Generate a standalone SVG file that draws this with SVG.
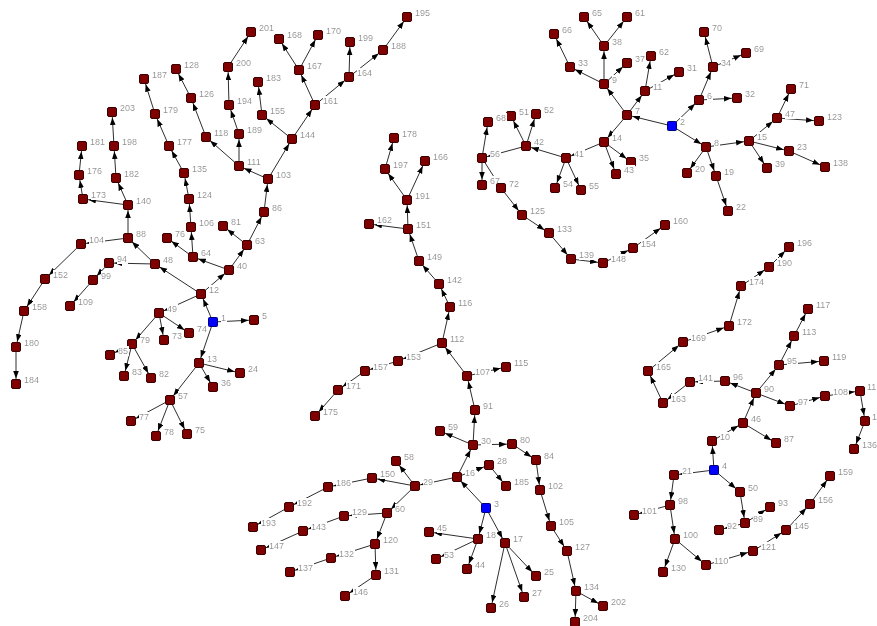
<svg xmlns="http://www.w3.org/2000/svg" xmlns:xlink="http://www.w3.org/1999/xlink" width="877" height="626" viewBox="0 0 877 626">
<style>
.edges line{stroke:#2e2e2e;stroke-width:1;marker-end:url(#arr)}
.n text{font-family:"Liberation Sans",Arial,sans-serif;font-size:9px;fill:#8a8a8a;filter:url(#bg)}
</style>
<defs>
<marker id="arr" markerUnits="userSpaceOnUse" markerWidth="8" markerHeight="6" refX="13" refY="2.8" orient="auto"><path d="M0,0 L7.5,2.8 L0,5.6 z" fill="#000"/></marker>
<filter id="bg" x="0" y="0" width="1" height="1"><feFlood flood-color="#fff"/><feComposite in="SourceGraphic" operator="over"/></filter>
<rect id="box" x="-4.5" y="-4.5" width="9" height="9" rx="1.5" fill="#7e0000" stroke="#3a0000" stroke-width="1"/>
<rect id="rbox" x="-4.5" y="-4.5" width="9" height="9" rx="1" fill="#0000ff" stroke="#00007a" stroke-width="1"/>
</defs>
<rect width="877" height="626" fill="#fff"/>
<g id="connectors" class="edges">
<line x1="213" y1="322" x2="201" y2="294"/><line x1="213" y1="322" x2="254" y2="320"/><line x1="213" y1="322" x2="199" y2="363"/>
<line x1="201" y1="294" x2="155" y2="264"/><line x1="201" y1="294" x2="229" y2="270"/><line x1="201" y1="294" x2="159" y2="313"/>
<line x1="155" y1="264" x2="128" y2="238"/><line x1="155" y1="264" x2="109" y2="263"/>
<line x1="128" y1="238" x2="128" y2="205"/><line x1="128" y1="238" x2="81" y2="244"/>
<line x1="128" y1="205" x2="83" y2="199"/><line x1="128" y1="205" x2="116" y2="178"/>
<line x1="83" y1="199" x2="79" y2="175"/><line x1="79" y1="175" x2="82" y2="146"/>
<line x1="116" y1="178" x2="114" y2="146"/><line x1="114" y1="146" x2="112" y2="112"/>
<line x1="81" y1="244" x2="45" y2="279"/><line x1="45" y1="279" x2="24" y2="311"/><line x1="24" y1="311" x2="16" y2="347"/><line x1="16" y1="347" x2="16" y2="384"/>
<line x1="109" y1="263" x2="93" y2="280"/><line x1="93" y1="280" x2="70" y2="306"/>
<line x1="229" y1="270" x2="247" y2="245"/><line x1="229" y1="270" x2="193" y2="257"/>
<line x1="247" y1="245" x2="264" y2="212"/><line x1="247" y1="245" x2="223" y2="226"/>
<line x1="264" y1="212" x2="268" y2="179"/>
<line x1="268" y1="179" x2="239" y2="166"/><line x1="268" y1="179" x2="292" y2="139"/>
<line x1="239" y1="166" x2="206" y2="137"/><line x1="239" y1="166" x2="239" y2="134"/>
<line x1="206" y1="137" x2="191" y2="98"/><line x1="191" y1="98" x2="176" y2="69"/>
<line x1="239" y1="134" x2="229" y2="105"/><line x1="229" y1="105" x2="228" y2="67"/><line x1="228" y1="67" x2="251" y2="32"/>
<line x1="292" y1="139" x2="262" y2="115"/><line x1="292" y1="139" x2="315" y2="105"/>
<line x1="262" y1="115" x2="258" y2="82"/>
<line x1="315" y1="105" x2="299" y2="70"/><line x1="315" y1="105" x2="349" y2="77"/>
<line x1="299" y1="70" x2="279" y2="39"/><line x1="299" y1="70" x2="318" y2="35"/>
<line x1="349" y1="77" x2="350" y2="42"/><line x1="349" y1="77" x2="383" y2="50"/><line x1="383" y1="50" x2="407" y2="17"/>
<line x1="193" y1="257" x2="167" y2="238"/><line x1="193" y1="257" x2="191" y2="227"/>
<line x1="191" y1="227" x2="189" y2="199"/><line x1="189" y1="199" x2="184" y2="173"/><line x1="184" y1="173" x2="169" y2="146"/><line x1="169" y1="146" x2="155" y2="114"/><line x1="155" y1="114" x2="144" y2="79"/>
<line x1="159" y1="313" x2="164" y2="340"/><line x1="159" y1="313" x2="189" y2="333"/><line x1="159" y1="313" x2="132" y2="344"/>
<line x1="132" y1="344" x2="110" y2="355"/><line x1="132" y1="344" x2="124" y2="376"/><line x1="132" y1="344" x2="151" y2="378"/>
<line x1="199" y1="363" x2="240" y2="373"/><line x1="199" y1="363" x2="213" y2="387"/><line x1="199" y1="363" x2="170" y2="400"/>
<line x1="170" y1="400" x2="131" y2="421"/><line x1="170" y1="400" x2="156" y2="436"/><line x1="170" y1="400" x2="187" y2="434"/>
<line x1="672" y1="126" x2="627" y2="115"/><line x1="672" y1="126" x2="699" y2="100"/><line x1="672" y1="126" x2="706" y2="147"/>
<line x1="627" y1="115" x2="604" y2="84"/><line x1="627" y1="115" x2="645" y2="91"/><line x1="627" y1="115" x2="604" y2="142"/>
<line x1="604" y1="84" x2="604" y2="46"/><line x1="604" y1="84" x2="570" y2="67"/><line x1="604" y1="84" x2="627" y2="63"/>
<line x1="604" y1="46" x2="584" y2="17"/><line x1="604" y1="46" x2="627" y2="17"/>
<line x1="570" y1="67" x2="554" y2="34"/>
<line x1="645" y1="91" x2="651" y2="56"/><line x1="645" y1="91" x2="679" y2="72"/>
<line x1="604" y1="142" x2="631" y2="162"/><line x1="604" y1="142" x2="616" y2="174"/><line x1="604" y1="142" x2="566" y2="158"/>
<line x1="566" y1="158" x2="526" y2="146"/><line x1="566" y1="158" x2="555" y2="188"/><line x1="566" y1="158" x2="581" y2="190"/>
<line x1="526" y1="146" x2="511" y2="116"/><line x1="526" y1="146" x2="536" y2="114"/><line x1="526" y1="146" x2="482" y2="158"/>
<line x1="482" y1="158" x2="488" y2="122"/><line x1="482" y1="158" x2="482" y2="185"/><line x1="482" y1="158" x2="501" y2="188"/>
<line x1="501" y1="188" x2="522" y2="215"/><line x1="522" y1="215" x2="549" y2="233"/><line x1="549" y1="233" x2="571" y2="259"/><line x1="571" y1="259" x2="603" y2="263"/><line x1="603" y1="263" x2="633" y2="248"/><line x1="633" y1="248" x2="665" y2="225"/>
<line x1="699" y1="100" x2="713" y2="67"/><line x1="699" y1="100" x2="737" y2="98"/>
<line x1="713" y1="67" x2="704" y2="32"/><line x1="713" y1="67" x2="746" y2="53"/>
<line x1="706" y1="147" x2="749" y2="141"/><line x1="706" y1="147" x2="687" y2="173"/><line x1="706" y1="147" x2="716" y2="176"/>
<line x1="716" y1="176" x2="728" y2="211"/>
<line x1="749" y1="141" x2="777" y2="118"/><line x1="749" y1="141" x2="789" y2="151"/><line x1="749" y1="141" x2="767" y2="168"/>
<line x1="777" y1="118" x2="791" y2="89"/><line x1="777" y1="118" x2="819" y2="121"/>
<line x1="789" y1="151" x2="825" y2="167"/>
<line x1="486" y1="508" x2="457" y2="477"/><line x1="486" y1="508" x2="478" y2="539"/><line x1="486" y1="508" x2="505" y2="543"/>
<line x1="457" y1="477" x2="473" y2="445"/><line x1="457" y1="477" x2="489" y2="465"/><line x1="457" y1="477" x2="415" y2="486"/>
<line x1="489" y1="465" x2="506" y2="486"/>
<line x1="473" y1="445" x2="440" y2="431"/><line x1="473" y1="445" x2="475" y2="410"/><line x1="473" y1="445" x2="512" y2="444"/>
<line x1="512" y1="444" x2="536" y2="460"/><line x1="536" y1="460" x2="540" y2="490"/><line x1="540" y1="490" x2="551" y2="526"/><line x1="551" y1="526" x2="567" y2="551"/><line x1="567" y1="551" x2="576" y2="591"/><line x1="576" y1="591" x2="603" y2="606"/><line x1="576" y1="591" x2="575" y2="622"/>
<line x1="475" y1="410" x2="467" y2="376"/><line x1="467" y1="376" x2="506" y2="367"/><line x1="467" y1="376" x2="442" y2="343"/>
<line x1="442" y1="343" x2="450" y2="307"/><line x1="450" y1="307" x2="439" y2="284"/><line x1="439" y1="284" x2="419" y2="261"/><line x1="419" y1="261" x2="408" y2="229"/><line x1="408" y1="229" x2="369" y2="224"/><line x1="408" y1="229" x2="407" y2="200"/><line x1="407" y1="200" x2="385" y2="169"/><line x1="407" y1="200" x2="425" y2="161"/><line x1="385" y1="169" x2="394" y2="138"/>
<line x1="442" y1="343" x2="398" y2="361"/><line x1="398" y1="361" x2="365" y2="371"/><line x1="365" y1="371" x2="338" y2="390"/><line x1="338" y1="390" x2="315" y2="416"/>
<line x1="415" y1="486" x2="396" y2="461"/><line x1="415" y1="486" x2="372" y2="478"/><line x1="415" y1="486" x2="387" y2="513"/>
<line x1="372" y1="478" x2="328" y2="487"/><line x1="328" y1="487" x2="289" y2="507"/><line x1="289" y1="507" x2="253" y2="527"/>
<line x1="387" y1="513" x2="344" y2="516"/><line x1="344" y1="516" x2="303" y2="531"/><line x1="303" y1="531" x2="261" y2="550"/>
<line x1="387" y1="513" x2="375" y2="544"/><line x1="375" y1="544" x2="331" y2="558"/><line x1="331" y1="558" x2="290" y2="572"/><line x1="375" y1="544" x2="376" y2="575"/><line x1="376" y1="575" x2="345" y2="596"/>
<line x1="478" y1="539" x2="429" y2="532"/><line x1="478" y1="539" x2="436" y2="559"/><line x1="478" y1="539" x2="467" y2="569"/>
<line x1="505" y1="543" x2="491" y2="608"/><line x1="505" y1="543" x2="524" y2="597"/><line x1="505" y1="543" x2="536" y2="576"/>
<line x1="714" y1="470" x2="712" y2="441"/><line x1="714" y1="470" x2="674" y2="475"/><line x1="714" y1="470" x2="740" y2="492"/>
<line x1="712" y1="441" x2="743" y2="423"/>
<line x1="743" y1="423" x2="776" y2="443"/><line x1="743" y1="423" x2="756" y2="393"/>
<line x1="756" y1="393" x2="725" y2="381"/><line x1="756" y1="393" x2="779" y2="365"/><line x1="756" y1="393" x2="790" y2="406"/>
<line x1="725" y1="381" x2="690" y2="382"/><line x1="690" y1="382" x2="663" y2="403"/><line x1="663" y1="403" x2="648" y2="371"/><line x1="648" y1="371" x2="683" y2="342"/><line x1="683" y1="342" x2="729" y2="326"/><line x1="729" y1="326" x2="741" y2="286"/><line x1="741" y1="286" x2="769" y2="267"/><line x1="769" y1="267" x2="789" y2="247"/>
<line x1="779" y1="365" x2="794" y2="336"/><line x1="794" y1="336" x2="808" y2="309"/><line x1="779" y1="365" x2="824" y2="361"/>
<line x1="790" y1="406" x2="825" y2="396"/><line x1="825" y1="396" x2="860" y2="391"/><line x1="860" y1="391" x2="865" y2="421"/><line x1="865" y1="421" x2="854" y2="449"/>
<line x1="674" y1="475" x2="670" y2="505"/><line x1="670" y1="505" x2="634" y2="515"/><line x1="670" y1="505" x2="675" y2="539"/>
<line x1="675" y1="539" x2="663" y2="572"/><line x1="675" y1="539" x2="706" y2="565"/><line x1="706" y1="565" x2="753" y2="551"/><line x1="753" y1="551" x2="786" y2="530"/><line x1="786" y1="530" x2="810" y2="504"/><line x1="810" y1="504" x2="830" y2="476"/>
<line x1="740" y1="492" x2="745" y2="523"/><line x1="745" y1="523" x2="770" y2="507"/><line x1="745" y1="523" x2="719" y2="530"/>
</g>
<g id="nodes">
<g id="n1" class="n" transform="translate(213,322)"><use href="#rbox"/><text x="8" y="-1">1</text></g>
<g id="n2" class="n" transform="translate(672,126)"><use href="#rbox"/><text x="8" y="-1">2</text></g>
<g id="n3" class="n" transform="translate(486,508)"><use href="#rbox"/><text x="8" y="-1">3</text></g>
<g id="n4" class="n" transform="translate(714,470)"><use href="#rbox"/><text x="8" y="-1">4</text></g>
<g id="n5" class="n" transform="translate(254,320)"><use href="#box"/><text x="8" y="-1">5</text></g>
<g id="n6" class="n" transform="translate(699,100)"><use href="#box"/><text x="8" y="-1">6</text></g>
<g id="n7" class="n" transform="translate(627,115)"><use href="#box"/><text x="8" y="-1">7</text></g>
<g id="n8" class="n" transform="translate(706,147)"><use href="#box"/><text x="8" y="-1">8</text></g>
<g id="n9" class="n" transform="translate(604,84)"><use href="#box"/><text x="8" y="-1">9</text></g>
<g id="n10" class="n" transform="translate(712,441)"><use href="#box"/><text x="8" y="-1">10</text></g>
<g id="n11" class="n" transform="translate(645,91)"><use href="#box"/><text x="8" y="-1">11</text></g>
<g id="n12" class="n" transform="translate(201,294)"><use href="#box"/><text x="8" y="-1">12</text></g>
<g id="n13" class="n" transform="translate(199,363)"><use href="#box"/><text x="8" y="-1">13</text></g>
<g id="n14" class="n" transform="translate(604,142)"><use href="#box"/><text x="8" y="-1">14</text></g>
<g id="n15" class="n" transform="translate(749,141)"><use href="#box"/><text x="8" y="-1">15</text></g>
<g id="n16" class="n" transform="translate(457,477)"><use href="#box"/><text x="8" y="-1">16</text></g>
<g id="n17" class="n" transform="translate(505,543)"><use href="#box"/><text x="8" y="-1">17</text></g>
<g id="n18" class="n" transform="translate(478,539)"><use href="#box"/><text x="8" y="-1">18</text></g>
<g id="n19" class="n" transform="translate(716,176)"><use href="#box"/><text x="8" y="-1">19</text></g>
<g id="n20" class="n" transform="translate(687,173)"><use href="#box"/><text x="8" y="-1">20</text></g>
<g id="n21" class="n" transform="translate(674,475)"><use href="#box"/><text x="8" y="-1">21</text></g>
<g id="n22" class="n" transform="translate(728,211)"><use href="#box"/><text x="8" y="-1">22</text></g>
<g id="n23" class="n" transform="translate(789,151)"><use href="#box"/><text x="8" y="-1">23</text></g>
<g id="n24" class="n" transform="translate(240,373)"><use href="#box"/><text x="8" y="-1">24</text></g>
<g id="n25" class="n" transform="translate(536,576)"><use href="#box"/><text x="8" y="-1">25</text></g>
<g id="n26" class="n" transform="translate(491,608)"><use href="#box"/><text x="8" y="-1">26</text></g>
<g id="n27" class="n" transform="translate(524,597)"><use href="#box"/><text x="8" y="-1">27</text></g>
<g id="n28" class="n" transform="translate(489,465)"><use href="#box"/><text x="8" y="-1">28</text></g>
<g id="n29" class="n" transform="translate(415,486)"><use href="#box"/><text x="8" y="-1">29</text></g>
<g id="n30" class="n" transform="translate(473,445)"><use href="#box"/><text x="8" y="-1">30</text></g>
<g id="n31" class="n" transform="translate(679,72)"><use href="#box"/><text x="8" y="-1">31</text></g>
<g id="n32" class="n" transform="translate(737,98)"><use href="#box"/><text x="8" y="-1">32</text></g>
<g id="n33" class="n" transform="translate(570,67)"><use href="#box"/><text x="8" y="-1">33</text></g>
<g id="n34" class="n" transform="translate(713,67)"><use href="#box"/><text x="8" y="-1">34</text></g>
<g id="n35" class="n" transform="translate(631,162)"><use href="#box"/><text x="8" y="-1">35</text></g>
<g id="n36" class="n" transform="translate(213,387)"><use href="#box"/><text x="8" y="-1">36</text></g>
<g id="n37" class="n" transform="translate(627,63)"><use href="#box"/><text x="8" y="-1">37</text></g>
<g id="n38" class="n" transform="translate(604,46)"><use href="#box"/><text x="8" y="-1">38</text></g>
<g id="n39" class="n" transform="translate(767,168)"><use href="#box"/><text x="8" y="-1">39</text></g>
<g id="n40" class="n" transform="translate(229,270)"><use href="#box"/><text x="8" y="-1">40</text></g>
<g id="n41" class="n" transform="translate(566,158)"><use href="#box"/><text x="8" y="-1">41</text></g>
<g id="n42" class="n" transform="translate(526,146)"><use href="#box"/><text x="8" y="-1">42</text></g>
<g id="n43" class="n" transform="translate(616,174)"><use href="#box"/><text x="8" y="-1">43</text></g>
<g id="n44" class="n" transform="translate(467,569)"><use href="#box"/><text x="8" y="-1">44</text></g>
<g id="n45" class="n" transform="translate(429,532)"><use href="#box"/><text x="8" y="-1">45</text></g>
<g id="n46" class="n" transform="translate(743,423)"><use href="#box"/><text x="8" y="-1">46</text></g>
<g id="n47" class="n" transform="translate(777,118)"><use href="#box"/><text x="8" y="-1">47</text></g>
<g id="n48" class="n" transform="translate(155,264)"><use href="#box"/><text x="8" y="-1">48</text></g>
<g id="n49" class="n" transform="translate(159,313)"><use href="#box"/><text x="8" y="-1">49</text></g>
<g id="n50" class="n" transform="translate(740,492)"><use href="#box"/><text x="8" y="-1">50</text></g>
<g id="n51" class="n" transform="translate(511,116)"><use href="#box"/><text x="8" y="-1">51</text></g>
<g id="n52" class="n" transform="translate(536,114)"><use href="#box"/><text x="8" y="-1">52</text></g>
<g id="n53" class="n" transform="translate(436,559)"><use href="#box"/><text x="8" y="-1">53</text></g>
<g id="n54" class="n" transform="translate(555,188)"><use href="#box"/><text x="8" y="-1">54</text></g>
<g id="n55" class="n" transform="translate(581,190)"><use href="#box"/><text x="8" y="-1">55</text></g>
<g id="n56" class="n" transform="translate(482,158)"><use href="#box"/><text x="8" y="-1">56</text></g>
<g id="n57" class="n" transform="translate(170,400)"><use href="#box"/><text x="8" y="-1">57</text></g>
<g id="n58" class="n" transform="translate(396,461)"><use href="#box"/><text x="8" y="-1">58</text></g>
<g id="n59" class="n" transform="translate(440,431)"><use href="#box"/><text x="8" y="-1">59</text></g>
<g id="n60" class="n" transform="translate(387,513)"><use href="#box"/><text x="8" y="-1">60</text></g>
<g id="n61" class="n" transform="translate(627,17)"><use href="#box"/><text x="8" y="-1">61</text></g>
<g id="n62" class="n" transform="translate(651,56)"><use href="#box"/><text x="8" y="-1">62</text></g>
<g id="n63" class="n" transform="translate(247,245)"><use href="#box"/><text x="8" y="-1">63</text></g>
<g id="n64" class="n" transform="translate(193,257)"><use href="#box"/><text x="8" y="-1">64</text></g>
<g id="n65" class="n" transform="translate(584,17)"><use href="#box"/><text x="8" y="-1">65</text></g>
<g id="n66" class="n" transform="translate(554,34)"><use href="#box"/><text x="8" y="-1">66</text></g>
<g id="n67" class="n" transform="translate(482,185)"><use href="#box"/><text x="8" y="-1">67</text></g>
<g id="n68" class="n" transform="translate(488,122)"><use href="#box"/><text x="8" y="-1">68</text></g>
<g id="n69" class="n" transform="translate(746,53)"><use href="#box"/><text x="8" y="-1">69</text></g>
<g id="n70" class="n" transform="translate(704,32)"><use href="#box"/><text x="8" y="-1">70</text></g>
<g id="n71" class="n" transform="translate(791,89)"><use href="#box"/><text x="8" y="-1">71</text></g>
<g id="n72" class="n" transform="translate(501,188)"><use href="#box"/><text x="8" y="-1">72</text></g>
<g id="n73" class="n" transform="translate(164,340)"><use href="#box"/><text x="8" y="-1">73</text></g>
<g id="n74" class="n" transform="translate(189,333)"><use href="#box"/><text x="8" y="-1">74</text></g>
<g id="n75" class="n" transform="translate(187,434)"><use href="#box"/><text x="8" y="-1">75</text></g>
<g id="n76" class="n" transform="translate(167,238)"><use href="#box"/><text x="8" y="-1">76</text></g>
<g id="n77" class="n" transform="translate(131,421)"><use href="#box"/><text x="8" y="-1">77</text></g>
<g id="n78" class="n" transform="translate(156,436)"><use href="#box"/><text x="8" y="-1">78</text></g>
<g id="n79" class="n" transform="translate(132,344)"><use href="#box"/><text x="8" y="-1">79</text></g>
<g id="n80" class="n" transform="translate(512,444)"><use href="#box"/><text x="8" y="-1">80</text></g>
<g id="n81" class="n" transform="translate(223,226)"><use href="#box"/><text x="8" y="-1">81</text></g>
<g id="n82" class="n" transform="translate(151,378)"><use href="#box"/><text x="8" y="-1">82</text></g>
<g id="n83" class="n" transform="translate(124,376)"><use href="#box"/><text x="8" y="-1">83</text></g>
<g id="n84" class="n" transform="translate(536,460)"><use href="#box"/><text x="8" y="-1">84</text></g>
<g id="n85" class="n" transform="translate(110,355)"><use href="#box"/><text x="8" y="-1">85</text></g>
<g id="n86" class="n" transform="translate(264,212)"><use href="#box"/><text x="8" y="-1">86</text></g>
<g id="n87" class="n" transform="translate(776,443)"><use href="#box"/><text x="8" y="-1">87</text></g>
<g id="n88" class="n" transform="translate(128,238)"><use href="#box"/><text x="8" y="-1">88</text></g>
<g id="n89" class="n" transform="translate(745,523)"><use href="#box"/><text x="8" y="-1">89</text></g>
<g id="n90" class="n" transform="translate(756,393)"><use href="#box"/><text x="8" y="-1">90</text></g>
<g id="n91" class="n" transform="translate(475,410)"><use href="#box"/><text x="8" y="-1">91</text></g>
<g id="n92" class="n" transform="translate(719,530)"><use href="#box"/><text x="8" y="-1">92</text></g>
<g id="n93" class="n" transform="translate(770,507)"><use href="#box"/><text x="8" y="-1">93</text></g>
<g id="n94" class="n" transform="translate(109,263)"><use href="#box"/><text x="8" y="-1">94</text></g>
<g id="n95" class="n" transform="translate(779,365)"><use href="#box"/><text x="8" y="-1">95</text></g>
<g id="n96" class="n" transform="translate(725,381)"><use href="#box"/><text x="8" y="-1">96</text></g>
<g id="n97" class="n" transform="translate(790,406)"><use href="#box"/><text x="8" y="-1">97</text></g>
<g id="n98" class="n" transform="translate(670,505)"><use href="#box"/><text x="8" y="-1">98</text></g>
<g id="n99" class="n" transform="translate(93,280)"><use href="#box"/><text x="8" y="-1">99</text></g>
<g id="n100" class="n" transform="translate(675,539)"><use href="#box"/><text x="8" y="-1">100</text></g>
<g id="n101" class="n" transform="translate(634,515)"><use href="#box"/><text x="8" y="-1">101</text></g>
<g id="n102" class="n" transform="translate(540,490)"><use href="#box"/><text x="8" y="-1">102</text></g>
<g id="n103" class="n" transform="translate(268,179)"><use href="#box"/><text x="8" y="-1">103</text></g>
<g id="n104" class="n" transform="translate(81,244)"><use href="#box"/><text x="8" y="-1">104</text></g>
<g id="n105" class="n" transform="translate(551,526)"><use href="#box"/><text x="8" y="-1">105</text></g>
<g id="n106" class="n" transform="translate(191,227)"><use href="#box"/><text x="8" y="-1">106</text></g>
<g id="n107" class="n" transform="translate(467,376)"><use href="#box"/><text x="8" y="-1">107</text></g>
<g id="n108" class="n" transform="translate(825,396)"><use href="#box"/><text x="8" y="-1">108</text></g>
<g id="n109" class="n" transform="translate(70,306)"><use href="#box"/><text x="8" y="-1">109</text></g>
<g id="n110" class="n" transform="translate(706,565)"><use href="#box"/><text x="8" y="-1">110</text></g>
<g id="n111" class="n" transform="translate(239,166)"><use href="#box"/><text x="8" y="-1">111</text></g>
<g id="n112" class="n" transform="translate(442,343)"><use href="#box"/><text x="8" y="-1">112</text></g>
<g id="n113" class="n" transform="translate(794,336)"><use href="#box"/><text x="8" y="-1">113</text></g>
<g id="n114" class="n" transform="translate(860,391)"><use href="#box"/><text x="7" y="-1">11</text></g>
<g id="n115" class="n" transform="translate(506,367)"><use href="#box"/><text x="8" y="-1">115</text></g>
<g id="n116" class="n" transform="translate(450,307)"><use href="#box"/><text x="8" y="-1">116</text></g>
<g id="n117" class="n" transform="translate(808,309)"><use href="#box"/><text x="8" y="-1">117</text></g>
<g id="n118" class="n" transform="translate(206,137)"><use href="#box"/><text x="8" y="-1">118</text></g>
<g id="n119" class="n" transform="translate(824,361)"><use href="#box"/><text x="8" y="-1">119</text></g>
<g id="n120" class="n" transform="translate(375,544)"><use href="#box"/><text x="8" y="-1">120</text></g>
<g id="n121" class="n" transform="translate(753,551)"><use href="#box"/><text x="8" y="-1">121</text></g>
<g id="n122" class="n" transform="translate(865,421)"><use href="#box"/><text x="7" y="-1">1</text></g>
<g id="n123" class="n" transform="translate(819,121)"><use href="#box"/><text x="8" y="-1">123</text></g>
<g id="n124" class="n" transform="translate(189,199)"><use href="#box"/><text x="8" y="-1">124</text></g>
<g id="n125" class="n" transform="translate(522,215)"><use href="#box"/><text x="8" y="-1">125</text></g>
<g id="n126" class="n" transform="translate(191,98)"><use href="#box"/><text x="8" y="-1">126</text></g>
<g id="n127" class="n" transform="translate(567,551)"><use href="#box"/><text x="8" y="-1">127</text></g>
<g id="n128" class="n" transform="translate(176,69)"><use href="#box"/><text x="8" y="-1">128</text></g>
<g id="n129" class="n" transform="translate(344,516)"><use href="#box"/><text x="8" y="-1">129</text></g>
<g id="n130" class="n" transform="translate(663,572)"><use href="#box"/><text x="8" y="-1">130</text></g>
<g id="n131" class="n" transform="translate(376,575)"><use href="#box"/><text x="8" y="-1">131</text></g>
<g id="n132" class="n" transform="translate(331,558)"><use href="#box"/><text x="8" y="-1">132</text></g>
<g id="n133" class="n" transform="translate(549,233)"><use href="#box"/><text x="8" y="-1">133</text></g>
<g id="n134" class="n" transform="translate(576,591)"><use href="#box"/><text x="8" y="-1">134</text></g>
<g id="n135" class="n" transform="translate(184,173)"><use href="#box"/><text x="8" y="-1">135</text></g>
<g id="n136" class="n" transform="translate(854,449)"><use href="#box"/><text x="8" y="-1">136</text></g>
<g id="n137" class="n" transform="translate(290,572)"><use href="#box"/><text x="8" y="-1">137</text></g>
<g id="n138" class="n" transform="translate(825,167)"><use href="#box"/><text x="8" y="-1">138</text></g>
<g id="n139" class="n" transform="translate(571,259)"><use href="#box"/><text x="8" y="-1">139</text></g>
<g id="n140" class="n" transform="translate(128,205)"><use href="#box"/><text x="8" y="-1">140</text></g>
<g id="n141" class="n" transform="translate(690,382)"><use href="#box"/><text x="8" y="-1">141</text></g>
<g id="n142" class="n" transform="translate(439,284)"><use href="#box"/><text x="8" y="-1">142</text></g>
<g id="n143" class="n" transform="translate(303,531)"><use href="#box"/><text x="8" y="-1">143</text></g>
<g id="n144" class="n" transform="translate(292,139)"><use href="#box"/><text x="8" y="-1">144</text></g>
<g id="n145" class="n" transform="translate(786,530)"><use href="#box"/><text x="8" y="-1">145</text></g>
<g id="n146" class="n" transform="translate(345,596)"><use href="#box"/><text x="8" y="-1">146</text></g>
<g id="n147" class="n" transform="translate(261,550)"><use href="#box"/><text x="8" y="-1">147</text></g>
<g id="n148" class="n" transform="translate(603,263)"><use href="#box"/><text x="8" y="-1">148</text></g>
<g id="n149" class="n" transform="translate(419,261)"><use href="#box"/><text x="8" y="-1">149</text></g>
<g id="n150" class="n" transform="translate(372,478)"><use href="#box"/><text x="8" y="-1">150</text></g>
<g id="n151" class="n" transform="translate(408,229)"><use href="#box"/><text x="8" y="-1">151</text></g>
<g id="n152" class="n" transform="translate(45,279)"><use href="#box"/><text x="8" y="-1">152</text></g>
<g id="n153" class="n" transform="translate(398,361)"><use href="#box"/><text x="8" y="-1">153</text></g>
<g id="n154" class="n" transform="translate(633,248)"><use href="#box"/><text x="8" y="-1">154</text></g>
<g id="n155" class="n" transform="translate(262,115)"><use href="#box"/><text x="8" y="-1">155</text></g>
<g id="n156" class="n" transform="translate(810,504)"><use href="#box"/><text x="8" y="-1">156</text></g>
<g id="n157" class="n" transform="translate(365,371)"><use href="#box"/><text x="8" y="-1">157</text></g>
<g id="n158" class="n" transform="translate(24,311)"><use href="#box"/><text x="8" y="-1">158</text></g>
<g id="n159" class="n" transform="translate(830,476)"><use href="#box"/><text x="8" y="-1">159</text></g>
<g id="n160" class="n" transform="translate(665,225)"><use href="#box"/><text x="8" y="-1">160</text></g>
<g id="n161" class="n" transform="translate(315,105)"><use href="#box"/><text x="8" y="-1">161</text></g>
<g id="n162" class="n" transform="translate(369,224)"><use href="#box"/><text x="8" y="-1">162</text></g>
<g id="n163" class="n" transform="translate(663,403)"><use href="#box"/><text x="8" y="-1">163</text></g>
<g id="n164" class="n" transform="translate(349,77)"><use href="#box"/><text x="8" y="-1">164</text></g>
<g id="n165" class="n" transform="translate(648,371)"><use href="#box"/><text x="8" y="-1">165</text></g>
<g id="n166" class="n" transform="translate(425,161)"><use href="#box"/><text x="8" y="-1">166</text></g>
<g id="n167" class="n" transform="translate(299,70)"><use href="#box"/><text x="8" y="-1">167</text></g>
<g id="n168" class="n" transform="translate(279,39)"><use href="#box"/><text x="8" y="-1">168</text></g>
<g id="n169" class="n" transform="translate(683,342)"><use href="#box"/><text x="8" y="-1">169</text></g>
<g id="n170" class="n" transform="translate(318,35)"><use href="#box"/><text x="8" y="-1">170</text></g>
<g id="n171" class="n" transform="translate(338,390)"><use href="#box"/><text x="8" y="-1">171</text></g>
<g id="n172" class="n" transform="translate(729,326)"><use href="#box"/><text x="8" y="-1">172</text></g>
<g id="n173" class="n" transform="translate(83,199)"><use href="#box"/><text x="8" y="-1">173</text></g>
<g id="n174" class="n" transform="translate(741,286)"><use href="#box"/><text x="8" y="-1">174</text></g>
<g id="n175" class="n" transform="translate(315,416)"><use href="#box"/><text x="8" y="-1">175</text></g>
<g id="n176" class="n" transform="translate(79,175)"><use href="#box"/><text x="8" y="-1">176</text></g>
<g id="n177" class="n" transform="translate(169,146)"><use href="#box"/><text x="8" y="-1">177</text></g>
<g id="n178" class="n" transform="translate(394,138)"><use href="#box"/><text x="8" y="-1">178</text></g>
<g id="n179" class="n" transform="translate(155,114)"><use href="#box"/><text x="8" y="-1">179</text></g>
<g id="n180" class="n" transform="translate(16,347)"><use href="#box"/><text x="8" y="-1">180</text></g>
<g id="n181" class="n" transform="translate(82,146)"><use href="#box"/><text x="8" y="-1">181</text></g>
<g id="n182" class="n" transform="translate(116,178)"><use href="#box"/><text x="8" y="-1">182</text></g>
<g id="n183" class="n" transform="translate(258,82)"><use href="#box"/><text x="8" y="-1">183</text></g>
<g id="n184" class="n" transform="translate(16,384)"><use href="#box"/><text x="8" y="-1">184</text></g>
<g id="n185" class="n" transform="translate(506,486)"><use href="#box"/><text x="8" y="-1">185</text></g>
<g id="n186" class="n" transform="translate(328,487)"><use href="#box"/><text x="8" y="-1">186</text></g>
<g id="n187" class="n" transform="translate(144,79)"><use href="#box"/><text x="8" y="-1">187</text></g>
<g id="n188" class="n" transform="translate(383,50)"><use href="#box"/><text x="8" y="-1">188</text></g>
<g id="n189" class="n" transform="translate(239,134)"><use href="#box"/><text x="8" y="-1">189</text></g>
<g id="n190" class="n" transform="translate(769,267)"><use href="#box"/><text x="8" y="-1">190</text></g>
<g id="n191" class="n" transform="translate(407,200)"><use href="#box"/><text x="8" y="-1">191</text></g>
<g id="n192" class="n" transform="translate(289,507)"><use href="#box"/><text x="8" y="-1">192</text></g>
<g id="n193" class="n" transform="translate(253,527)"><use href="#box"/><text x="8" y="-1">193</text></g>
<g id="n194" class="n" transform="translate(229,105)"><use href="#box"/><text x="8" y="-1">194</text></g>
<g id="n195" class="n" transform="translate(407,17)"><use href="#box"/><text x="8" y="-1">195</text></g>
<g id="n196" class="n" transform="translate(789,247)"><use href="#box"/><text x="8" y="-1">196</text></g>
<g id="n197" class="n" transform="translate(385,169)"><use href="#box"/><text x="8" y="-1">197</text></g>
<g id="n198" class="n" transform="translate(114,146)"><use href="#box"/><text x="8" y="-1">198</text></g>
<g id="n199" class="n" transform="translate(350,42)"><use href="#box"/><text x="8" y="-1">199</text></g>
<g id="n200" class="n" transform="translate(228,67)"><use href="#box"/><text x="8" y="-1">200</text></g>
<g id="n201" class="n" transform="translate(251,32)"><use href="#box"/><text x="8" y="-1">201</text></g>
<g id="n202" class="n" transform="translate(603,606)"><use href="#box"/><text x="8" y="-1">202</text></g>
<g id="n203" class="n" transform="translate(112,112)"><use href="#box"/><text x="8" y="-1">203</text></g>
<g id="n204" class="n" transform="translate(575,622)"><use href="#box"/><text x="8" y="-1">204</text></g>
</g>
</svg>
